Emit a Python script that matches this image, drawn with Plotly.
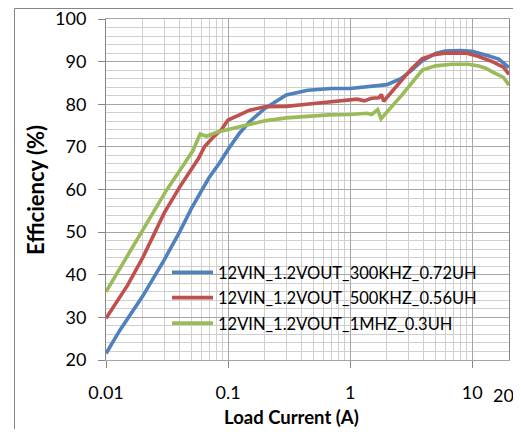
import plotly.graph_objects as go
import math

# ---- data ----
x_300k = [0.01, 0.013, 0.02, 0.03, 0.04, 0.05, 0.06, 0.07, 0.085, 0.1, 0.124, 0.15, 0.2, 0.3, 0.45,
          0.7, 1.0, 1.3, 1.6, 2.0, 2.6, 3.2, 3.9, 5.0, 6.0, 8.0, 10.0, 11.3, 13.7, 16.5, 18.0, 20.0]
y_300k = [21.5, 27.0, 35.0, 43.5, 50.0, 55.5, 59.5, 62.8, 66.2, 69.4, 73.2, 75.9, 79.0, 82.2, 83.3,
          83.7, 83.7, 84.1, 84.3, 84.6, 86.0, 88.0, 90.2, 91.9, 92.5, 92.6, 92.4, 91.9, 91.3, 90.6, 89.7, 88.6]

x_500k = [0.01, 0.015, 0.02, 0.023, 0.03, 0.04, 0.049, 0.057, 0.064, 0.075, 0.088, 0.1, 0.124, 0.15,
          0.2, 0.3, 0.44, 0.67, 1.0, 1.14, 1.3, 1.5, 1.72, 1.8, 1.88, 2.66, 3.2, 3.9, 5.0, 6.0, 8.9,
          11.3, 14.6, 18.0, 20.0]
y_500k = [29.8, 37.5, 44.0, 47.5, 54.5, 60.5, 64.2, 67.2, 70.0, 72.2, 74.0, 76.3, 77.5, 78.6,
          79.4, 79.5, 80.0, 80.6, 81.0, 81.2, 80.8, 81.4, 81.5, 82.3, 80.7, 85.6, 88.4, 90.7, 91.7, 92.0, 92.0,
          91.2, 90.0, 88.7, 87.0]

x_1m = [0.01, 0.02, 0.023, 0.0314, 0.043, 0.0517, 0.059, 0.0665, 0.082, 0.1, 0.124, 0.2, 0.3, 0.44,
        0.67, 1.0, 1.37, 1.5, 1.68, 1.79, 2.66, 3.9, 5.0, 6.8, 9.3, 11.3, 13.0, 14.6, 16.6, 18.0, 20.0]
y_1m = [36.0, 50.5, 53.2, 59.9, 65.7, 69.2, 73.0, 72.5, 73.5, 74.1, 74.6, 76.1, 76.8, 77.1,
        77.5, 77.6, 77.9, 77.6, 78.7, 76.6, 82.2, 88.0, 89.0, 89.4, 89.4, 89.0, 88.4, 87.6, 86.9, 86.3, 84.5]

series_names = ["12VIN_1.2VOUT_300KHZ_0.72UH", "12VIN_1.2VOUT_500KHZ_0.56UH", "12VIN_1.2VOUT_1MHZ_0.3UH"]
series_colors = ["#4F81BD", "#C0504D", "#9BBB59"]

x_tickvals = [0.01, 0.1, 1, 10]
x_ticktext = ["0.01", "0.1", "1", "10"]
x_extra_label = 20
y_tickvals = [20, 30, 40, 50, 60, 70, 80, 90, 100]

FONT = "Lato"

# page offset compensation (browser body margin)
OFF = 8
W, H = 521 - 2 * OFF, 437 - 2 * OFF
PL, PR, PT, PB = 106 - OFF, 509 - OFF, 19 - OFF, 360 - OFF   # plot area in figure pixels
pw, ph = PR - PL, PB - PT


def px(xp):
    return (xp - OFF - PL) / pw


def py(yp):
    return (PB - (yp - OFF)) / ph


minor_x = [m * 10 ** e for e in range(-2, 2) for m in range(2, 10) if m * 10 ** e <= 20]

fig = go.Figure()
for i, (xs, ys) in enumerate([(x_300k, y_300k), (x_500k, y_500k), (x_1m, y_1m)]):
    fig.add_trace(go.Scatter(
        x=xs, y=ys, mode="lines", name=series_names[i], legendgroup=f"g{i}",
        line=dict(color=series_colors[i], width=3.6),
    ))

major_grid = "#A6A6A6"
minor_grid = "#CFCFCF"

fig.update_layout(
    width=W, height=H,
    margin=dict(l=PL, r=W - PR, t=PT, b=H - PB, pad=0, autoexpand=False),
    paper_bgcolor="white", plot_bgcolor="white",
    font=dict(family=FONT, color="#000000"),
    showlegend=True,
    legend=dict(
        x=px(167), y=py(255), xanchor="left", yanchor="top",
        bgcolor="rgba(0,0,0,0)", borderwidth=0,
        font=dict(family=FONT, size=16.5, color="#000000"),
        itemwidth=41, tracegroupgap=1,
    ),
    xaxis=dict(
        type="log", range=[math.log10(0.01), math.log10(20)],
        tickvals=x_tickvals, ticktext=x_ticktext,
        ticks="outside", ticklen=7, tickcolor="#868686",
        tickfont=dict(family=FONT, size=18),
        ticklabelstandoff=9, automargin=False, ticklabeloverflow="allow",
        showgrid=True, gridcolor=major_grid, gridwidth=1,
        minor=dict(tickvals=minor_x, showgrid=True, gridcolor=minor_grid, gridwidth=1, ticks=""),
        showline=True, linecolor="#A6A6A6", linewidth=1, mirror=True,
        zeroline=False,
    ),
    yaxis=dict(
        range=[20, 100], tickvals=y_tickvals,
        ticks="outside", ticklen=7, tickcolor="#868686",
        tickfont=dict(family=FONT, size=18),
        ticklabelstandoff=8, automargin=False, ticklabeloverflow="allow",
        showgrid=True, gridcolor=major_grid, gridwidth=1,
        minor=dict(dtick=2, showgrid=True, gridcolor=minor_grid, gridwidth=1, ticks=""),
        showline=True, linecolor="#868686", linewidth=1, mirror=True,
        zeroline=False,
    ),
    annotations=[
        dict(text=str(x_extra_label), x=math.log10(x_extra_label), y=py(395), xref="x", yref="paper",
             showarrow=False, xshift=-6, yanchor="middle", font=dict(family=FONT, size=18)),
        dict(text="<b>Load Current (A)</b>", x=px(291), y=py(416.5),
             xref="paper", yref="paper", showarrow=False, xanchor="center", yanchor="middle",
             font=dict(family=FONT, size=18.5)),
        dict(text="<b>Efficiency (%)</b>", x=px(35), y=py(190),
             xref="paper", yref="paper", showarrow=False, xanchor="center", yanchor="middle",
             textangle=-90, font=dict(family=FONT, size=22)),
    ],
    shapes=[
        dict(type="rect", xref="paper", yref="paper",
             x0=px(14.5), x1=px(520), y0=py(436), y1=py(8.5),
             line=dict(color="#868686", width=1), fillcolor="rgba(0,0,0,0)", layer="below"),
    ],
)

fig.write_html("out.html")
